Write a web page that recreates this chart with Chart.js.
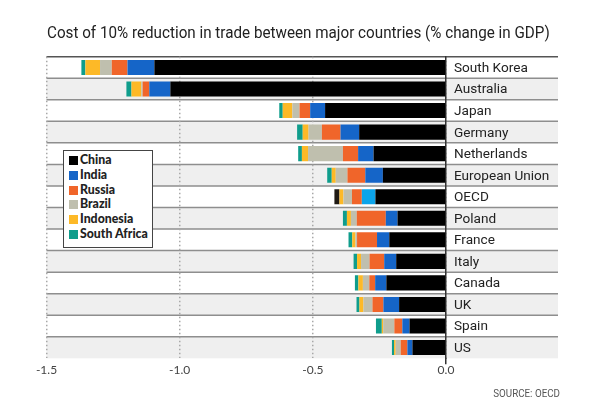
<!DOCTYPE html>
<html>
<head>
<meta charset="utf-8">
<script src="https://cdn.jsdelivr.net/npm/chart.js@4/dist/chart.umd.min.js"></script>
<style>
  html, body { margin: 0; padding: 0; background: #fff; }
  #wrap { position: relative; width: 602px; height: 413px; overflow: hidden; font-family: Lato, sans-serif; }
  #title { position: absolute; left: 47px; top: 21px; font-family: Roboto, sans-serif; font-size: 17px; line-height: 22px; color: #222; white-space: nowrap; transform: scaleX(0.895); transform-origin: left center; }
  #legend { position: absolute; left: 63px; top: 150px; width: 88px; height: 94px; padding: 2px 0 0 0; background: #fff; border: 1.5px solid #444; }
  #legend .item { position: relative; height: 14.8px; line-height: 14.8px; font-size: 12.3px; font-weight: 900; color: #222; padding-left: 16px; white-space: nowrap; }
  #legend .swatch { position: absolute; left: 5px; top: 3px; width: 9px; height: 9px; }
  #source { position: absolute; right: 42px; top: 387px; font-family: Roboto, sans-serif; font-size: 11px; color: #555; white-space: nowrap; transform: scaleX(0.89); transform-origin: right center; }
</style>
</head>
<body>
<div id="wrap">
  <canvas id="chart" width="602" height="413"></canvas>
  <div id="title">Cost of 10% reduction in trade between major countries (% change in GDP)</div>
  <div id="legend"></div>
  <div id="source">SOURCE: OECD</div>
</div>
<script>
const countries = ['South Korea', 'Australia', 'Japan', 'Germany', 'Netherlands', 'European Union', 'OECD', 'Poland', 'France', 'Italy', 'Canada', 'UK', 'Spain', 'US'];
const seriesNames = ['China', 'India', 'Russia', 'Brazil', 'Indonesia', 'South Africa'];

const china = [-1.095, -1.035, -0.454, -0.326, -0.272, -0.237, -0.265, -0.182, -0.213, -0.187, -0.224, -0.176, -0.137, -0.126];
const india = [-0.101, -0.079, -0.056, -0.070, -0.058, -0.066, -0.051, -0.044, -0.046, -0.045, -0.042, -0.059, -0.027, -0.019];
const russia = [-0.059, -0.025, -0.040, -0.070, -0.057, -0.067, -0.037, -0.109, -0.075, -0.055, -0.022, -0.041, -0.030, -0.025];
const brazil = [-0.044, -0.005, -0.027, -0.050, -0.131, -0.044, -0.032, -0.022, -0.006, -0.032, -0.024, -0.034, -0.042, -0.019];
const indonesia = [-0.055, -0.037, -0.036, -0.022, -0.023, -0.015, -0.015, -0.015, -0.012, -0.015, -0.017, -0.015, -0.005, -0.006];
const southAfrica = [-0.015, -0.019, -0.013, -0.021, -0.014, -0.017, -0.019, -0.015, -0.014, -0.013, -0.013, -0.011, -0.022, -0.008];

const seriesValues = [china, india, russia, brazil, indonesia, southAfrica];
const seriesColors = ['#000000', '#1565c8', '#f0652a', '#bfbfae', '#fdb927', '#0f9d8c'];
// the OECD row uses a lighter blue and a near black end piece
const oecdColors = { India: '#0ca4ea', 'South Africa': '#1f1a14' };
const xTicks = [-1.5, -1.0, -0.5, 0];

// grey bands and separators run past the plot, under the country names
const rowBands = {
  id: 'rowBands',
  beforeDraw(chart) {
    const { ctx, chartArea, scales } = chart;
    const bandRight = 558;
    const rowHeight = chartArea.height / countries.length;

    ctx.save();
    countries.forEach((name, i) => {
      const top = scales.y.getPixelForValue(i) - rowHeight / 2;
      if (i % 2 === 1) {
        ctx.fillStyle = '#efefef';
        ctx.fillRect(chartArea.left, top, bandRight - chartArea.left, rowHeight);
      }
      if (i > 0) {
        ctx.strokeStyle = '#8e8e8e';
        ctx.lineWidth = 1.5;
        ctx.beginPath();
        ctx.moveTo(chartArea.left, top);
        ctx.lineTo(bandRight, top);
        ctx.stroke();
      }
    });
    ctx.strokeStyle = '#555';
    ctx.lineWidth = 1.5;
    ctx.beginPath();
    ctx.moveTo(chartArea.left, chartArea.top);
    ctx.lineTo(bandRight, chartArea.top);
    ctx.stroke();
    ctx.restore();
  }
};

new Chart(document.getElementById('chart'), {
  type: 'bar',
  data: {
    labels: countries,
    datasets: seriesNames.map((name, i) => ({
      label: name,
      data: seriesValues[i],
      backgroundColor: countries.map(c => (c === 'OECD' && oecdColors[name]) || seriesColors[i]),
      borderWidth: 0,
      categoryPercentage: 1,
      barPercentage: 0.7
    }))
  },
  plugins: [rowBands],
  options: {
    indexAxis: 'y',
    responsive: false,
    animation: false,
    devicePixelRatio: 1,
    layout: { padding: { left: 46.5, right: 0, top: 56.7, bottom: 0 } },
    plugins: {
      legend: { display: false },
      tooltip: { enabled: false }
    },
    scales: {
      x: {
        stacked: true,
        min: -1.5,
        max: 0,
        afterBuildTicks(axis) { axis.ticks = xTicks.map(value => ({ value })); },
        afterFit(axis) { axis.height = 54.7; },
        grid: {
          color: '#a8a8a8',
          lineWidth: 1.5,
          tickLength: 6,
          tickWidth: 1.5,
          tickColor: ctx => (ctx.tick && ctx.tick.value === 0 ? '#333' : 'transparent')
        },
        border: { display: false, dash: [1.5, 2.5] },
        ticks: {
          padding: -1,
          color: '#444',
          font: { family: 'Lato', size: 12 },
          maxRotation: 0,
          callback: value => value.toFixed(1)
        }
      },
      y: {
        position: 'right',
        stacked: true,
        afterFit(axis) { axis.width = 156; },
        grid: { display: false, drawTicks: false },
        border: { display: true, color: '#333', width: 1.5 },
        ticks: {
          padding: 8,
          labelOffset: 1,
          color: '#222',
          autoSkip: false,
          font: { family: 'Roboto', size: 13.6 }
        }
      }
    }
  }
});

document.getElementById('legend').innerHTML = seriesNames.map((name, i) => `
  <div class="item"><span class="swatch" style="background:${seriesColors[i]}"></span>${name}</div>
`).join('');
</script>
</body>
</html>
